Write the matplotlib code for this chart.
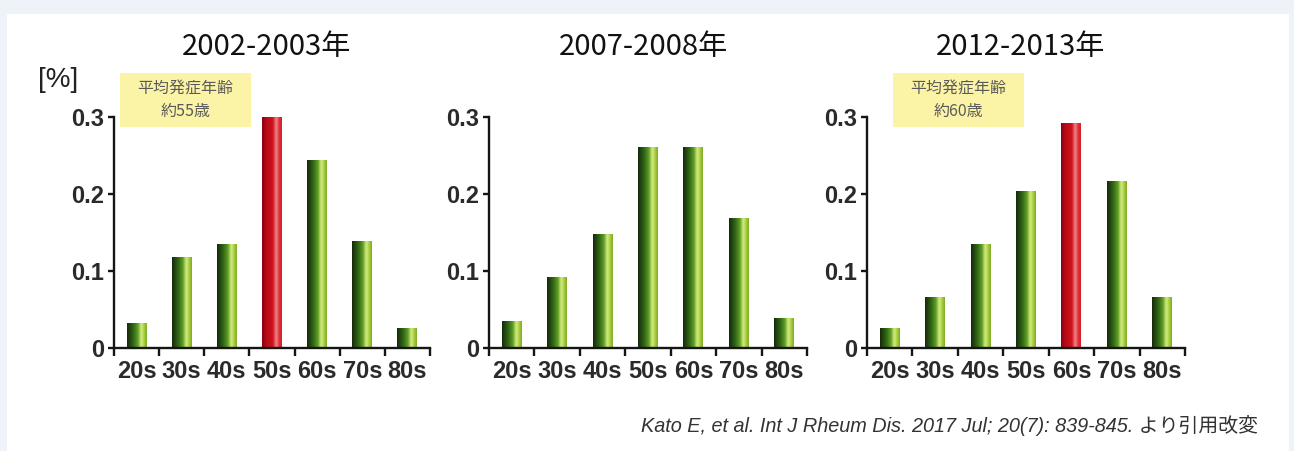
import numpy as np
import matplotlib
matplotlib.use("Agg")
import matplotlib.pyplot as plt
from matplotlib.colors import LinearSegmentedColormap
from matplotlib.patches import Rectangle

plt.rcParams['font.family'] = ['Liberation Sans', 'Noto Sans CJK JP', 'DejaVu Sans']

# ---- data ----
age_groups = ["20s", "30s", "40s", "50s", "60s", "70s", "80s"]
rate_2002 = [0.032, 0.117, 0.135, 0.300, 0.244, 0.138, 0.025]
rate_2007 = [0.034, 0.091, 0.148, 0.260, 0.260, 0.168, 0.038]
rate_2012 = [0.025, 0.066, 0.134, 0.203, 0.291, 0.216, 0.066]
panel_titles = ["2002-2003年", "2007-2008年", "2012-2013年"]
peak_index = [3, None, 4]
onset_notes = ["平均発症年齢\n約55歳", None, "平均発症年齢\n約60歳"]
y_ticks = [0, 0.1, 0.2, 0.3]
y_tick_labels = ["0", "0.1", "0.2", "0.3"]
citation = "Kato E, et al. Int J Rheum Dis. 2017 Jul; 20(7): 839-845. より引用改変"

# gradient colour maps for the bars (left -> right)
green_cmap = LinearSegmentedColormap.from_list("grn", [
    (0.00, "#16290c"), (0.30, "#2f6415"), (0.55, "#5f9e24"),
    (0.72, "#d9ee86"), (0.86, "#a9cf3e"), (1.00, "#7eaa28")])
red_cmap = LinearSegmentedColormap.from_list("red", [
    (0.00, "#8a0012"), (0.22, "#b80c18"), (0.55, "#d0121d"),
    (0.72, "#f28a8a"), (0.86, "#e0303a"), (1.00, "#d02028")])
grad = np.linspace(0, 1, 64).reshape(1, -1)

W, H = 1294, 451
fig = plt.figure(figsize=(W / 100, H / 100), dpi=100)
fig.patch.set_facecolor("#eef3f9")
fig.patches.append(Rectangle((7 / W, 0), (1289 - 7) / W, 1 - 14 / H,
                             transform=fig.transFigure, facecolor="white",
                             edgecolor="none", zorder=-5))

# axes boxes in pixels: (left, right)
axes_px = [(114, 430), (489, 807), (867, 1185)]
y0_px, ytop_px = 348, 117
note_boxes = [(120, 251), None, (893, 1024)]

series = [rate_2002, rate_2007, rate_2012]
bar_w = 0.44
tick_font = dict(fontsize=17, fontweight="bold", color="#2a2a2a")

for k, (l, r) in enumerate(axes_px):
    ax = fig.add_axes([l / W, 1 - y0_px / H, (r - l) / W, (y0_px - ytop_px) / H])
    ax.set_facecolor("none")
    vals = series[k]
    for i, v in enumerate(vals):
        cmap = red_cmap if i == peak_index[k] else green_cmap
        xc = i + 0.5
        ax.imshow(grad, cmap=cmap, aspect="auto", interpolation="bicubic",
                  extent=(xc - bar_w / 2, xc + bar_w / 2, 0, v), zorder=2,
                  clip_on=False)
    ax.set_xlim(0, 7)
    ax.set_ylim(0, 0.3)

    for s in ["top", "right"]:
        ax.spines[s].set_visible(False)
    for s in ["left", "bottom"]:
        ax.spines[s].set_linewidth(1.7)
        ax.spines[s].set_color("#151515")
        ax.spines[s].set_zorder(5)

    ax.set_xticks(np.arange(0, 8))
    ax.set_xticklabels([])
    ax.set_xticks(np.arange(7) + 0.5, minor=True)
    ax.set_xticklabels(age_groups, minor=True, **tick_font)
    ax.tick_params(axis="x", which="major", direction="out", length=5.5,
                   width=1.7, color="#151515")
    ax.tick_params(axis="x", which="minor", length=0, pad=9)

    ax.set_yticks(y_ticks)
    ax.set_yticklabels(y_tick_labels, **tick_font)
    ax.tick_params(axis="y", direction="out", length=4.5, width=1.7,
                   color="#151515", pad=2.5)

    fig.text(((l + r) / 2 - 5) / W, 1 - 47 / H, panel_titles[k],
             ha="center", va="center", fontsize=21, fontweight="normal",
             color="#111111", family=["Noto Sans CJK JP", "DejaVu Sans"])

    if note_boxes[k] is not None:
        bl, br = note_boxes[k]
        fig.patches.append(Rectangle((bl / W, 1 - 127 / H), (br - bl) / W, 54 / H,
                                     transform=fig.transFigure,
                                     facecolor="#fbf3a6", edgecolor="none",
                                     zorder=3))
        fig.text((bl + br) / 2 / W, 1 - 100 / H, onset_notes[k],
                 ha="center", va="center", fontsize=11.5, color="#5a5a5a",
                 linespacing=1.45, zorder=4,
                 family=["Noto Sans CJK JP", "DejaVu Sans"])

fig.text(58 / W, 1 - 80 / H, "[%]", ha="center", va="center",
         fontsize=20, color="#222222")

fig.text(1258 / W, 1 - 426 / H, citation, ha="right", va="center",
         fontsize=14.3, style="italic", color="#333333")

plt.savefig("out.png", dpi=100, facecolor=fig.get_facecolor())
